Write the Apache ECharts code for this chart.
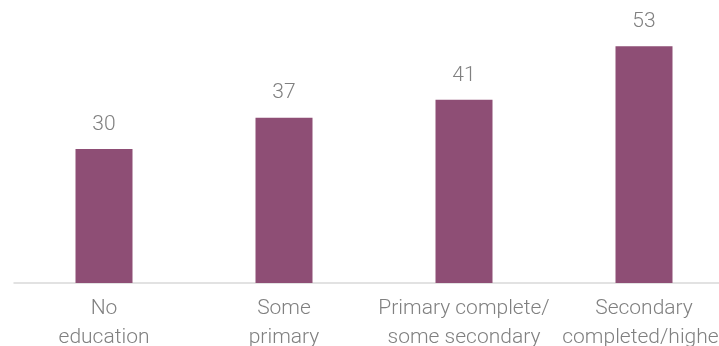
<!DOCTYPE html>
<html>
<head>
<meta charset="utf-8">
<script src="https://cdn.jsdelivr.net/npm/echarts@6/dist/echarts.min.js"></script>
<style>
  html, body { margin: 0; padding: 0; background: #ffffff; }
  #chart { width: 719px; height: 346px; }
</style>
</head>
<body>
<div id="chart"></div>
<script>
// Education levels and the share for each group
const categories = [
  'No\neducation',
  'Some\nprimary',
  'Primary complete/\nsome secondary',
  'Secondary\ncompleted/higher'
];
const values = [30, 37, 41, 53];

const chart = echarts.init(document.getElementById('chart'), null, { renderer: 'canvas' });

chart.setOption({
  animation: false,
  backgroundColor: '#ffffff',
  // plot area runs slightly past the right edge, so the last label is clipped
  grid: {
    left: 14, width: 720, top: 15, bottom: 63,
    containLabel: false,
    outerBoundsMode: 'none'
  },
  xAxis: {
    type: 'category',
    data: categories,
    axisTick: { show: false },
    axisLine: { lineStyle: { color: '#d9d9d9', width: 1.5 } },
    axisLabel: {
      color: '#808080',
      fontFamily: 'Roboto',
      fontWeight: 300,
      fontSize: 21,
      lineHeight: 29,
      margin: 11,
      interval: 0,
      hideOverlap: false
    }
  },
  yAxis: {
    type: 'value',
    min: 0,
    max: 60,
    show: false,
    splitLine: { show: false }
  },
  series: [{
    type: 'bar',
    data: values,
    barWidth: 57,
    itemStyle: { color: '#8e4e75' },
    label: {
      show: true,
      position: 'top',
      distance: 14,
      color: '#808080',
      fontFamily: 'Roboto',
      fontWeight: 300,
      fontSize: 21
    }
  }]
});
</script>
</body>
</html>
